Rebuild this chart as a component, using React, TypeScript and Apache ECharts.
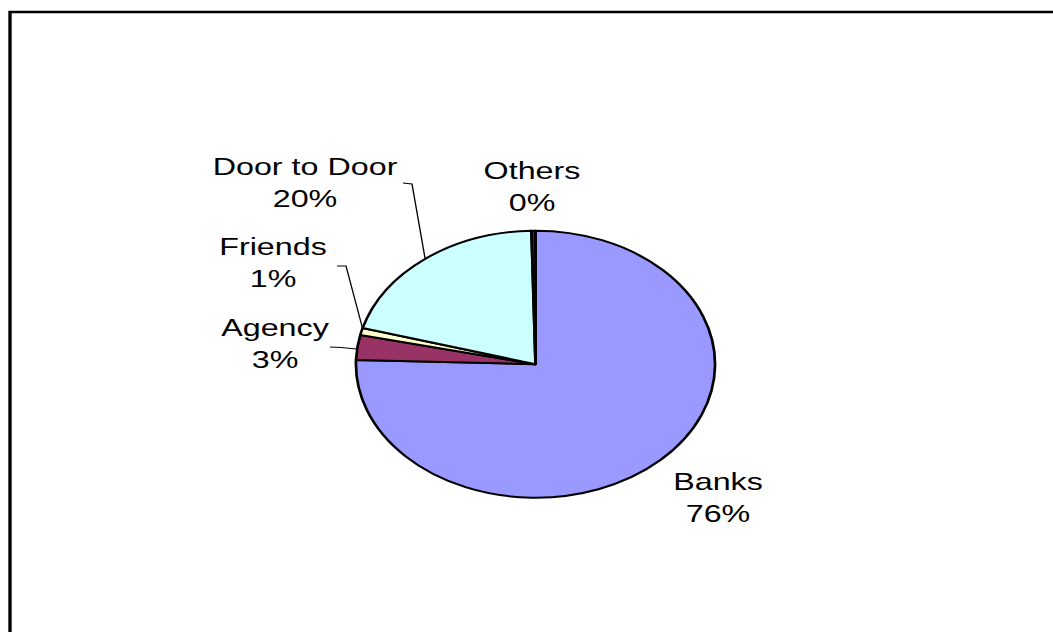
import React, { useEffect, useRef } from "react";
import * as echarts from "echarts";

const categories = ["Banks", "Agency", "Friends", "Door to Door", "Others"];
const values = [75.5, 3.0, 0.86, 20.28, 0.36];
const colors = ["#9999FF", "#993366", "#FFFFCC", "#CCFFFF", "#660066"];

// horizontal stretch of the original picture
const S = 1.345;
const W = 1053;
const H = 632;

// label centres in page pixels
const labelPos: [number, number][] = [
  [718, 498],
  [275, 344],
  [273, 263],
  [305, 183],
  [532, 187],
];
const leaderLines: ([number, number][] | null)[] = [
  null,
  [[330, 347], [341, 347.5], [357, 349]],
  [[337, 266], [346, 266], [363, 330]],
  [[403, 183], [412, 184], [425, 258]],
  null,
];

export default function App() {
  const ref = useRef<HTMLDivElement>(null);
  useEffect(() => {
    if (!ref.current) return;
    const chart = echarts.init(ref.current, null, { renderer: "svg" });
    chart.setOption({
      animation: false,
      backgroundColor: "#ffffff",
      graphic: [
        {
          type: "rect",
          shape: { x: 10 / S, y: 12, width: 2000, height: 2000 },
          style: { fill: "none", stroke: "#000", lineWidth: 2.5 },
          silent: true,
        },
      ],
      series: [
        {
          type: "pie",
          center: [535.5 / S, 364.2],
          radius: 133.5,
          startAngle: 90,
          clockwise: true,
          percentPrecision: 0,
          avoidLabelOverlap: false,
          itemStyle: { borderColor: "#000", borderWidth: 2 },
          label: {
            show: true,
            formatter: "{b}\n{d}%",
            fontFamily: "'Liberation Sans', Arial, sans-serif",
            fontSize: 24,
            lineHeight: 32,
            color: "#000",
            align: "center",
          },
          labelLine: {
            show: true,
            lineStyle: { color: "#000", width: 1 },
            smooth: false,
          },
          labelLayout: (params: any) => {
            const i = params.dataIndex;
            const p = labelPos[i];
            const ll = leaderLines[i];
            const out: any = {
              x: p[0] / S,
              y: p[1],
              align: "center",
              verticalAlign: "middle",
            };
            if (ll) out.labelLinePoints = ll.map(([x, y]) => [x / S, y]);
            return out;
          },
          data: categories.map((name, i) => ({
            name,
            value: values[i],
            itemStyle: { color: colors[i] },
            labelLine: { show: !!leaderLines[i] },
          })),
        },
      ],
    });
    return () => chart.dispose();
  }, []);
  return (
    <div
      style={{
        position: "fixed",
        left: 0,
        top: 0,
        width: W,
        height: H,
        overflow: "hidden",
        background: "#fff",
      }}
    >
      <div
        ref={ref}
        style={{
          width: W / S,
          height: H,
          transform: `scaleX(${S})`,
          transformOrigin: "0 0",
        }}
      />
    </div>
  );
}
